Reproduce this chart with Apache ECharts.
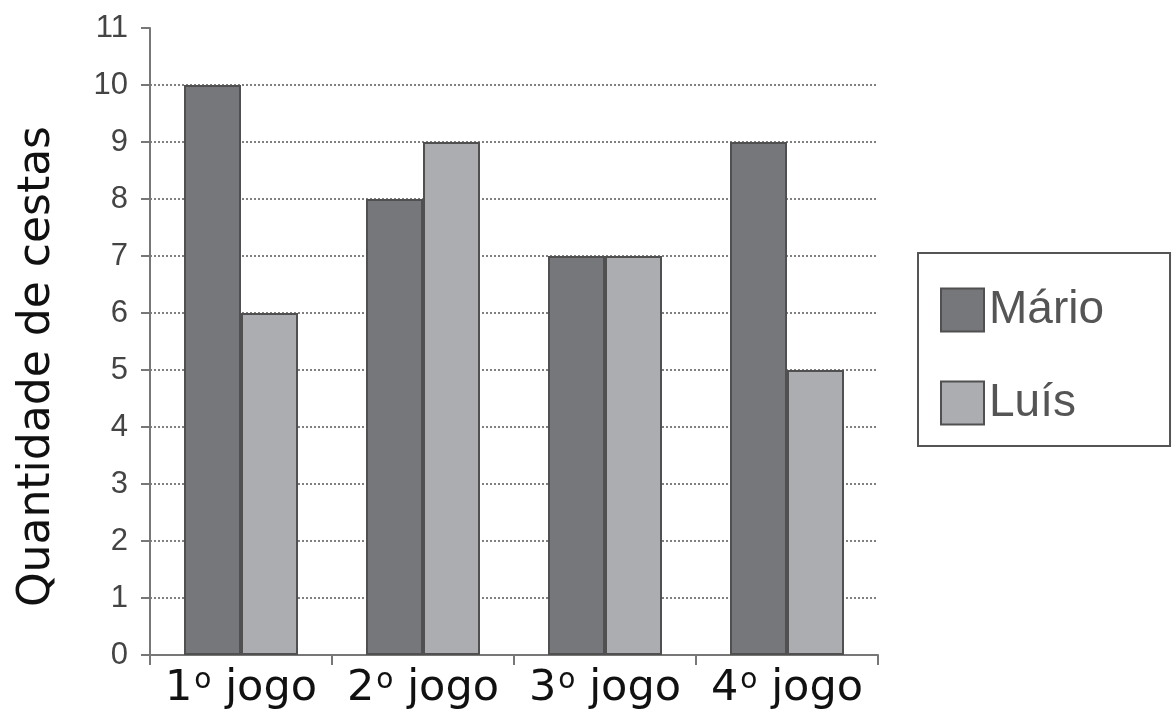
<!DOCTYPE html>
<html>
<head>
<meta charset="utf-8">
<script src="https://cdn.jsdelivr.net/npm/echarts@6/dist/echarts.min.js"></script>
<style>html,body{margin:0;padding:0;background:#fff}#c{width:1175px;height:715px}</style>
</head>
<body>
<div id="c"></div>
<script>
const categories = ['1', '2', '3', '4'];
const seriesNames = ['Mário', 'Luís'];
const mario = [10, 8, 7, 9];
const luis = [6, 9, 7, 5];
const yTicks = [0, 1, 2, 3, 4, 5, 6, 7, 8, 9, 10, 11];

const chart = echarts.init(document.getElementById('c'));
chart.setOption({
  animation: false,
  backgroundColor: '#fff',
  grid: { left: 150, right: 297, top: 28, bottom: 60 },
  legend: {
    orient: 'vertical',
    left: 918, top: 253,
    padding: [34, 66, 20, 22],
    itemGap: 47,
    itemWidth: 43, itemHeight: 43,
    borderColor: '#555', borderWidth: 2,
    icon: 'rect',
    textStyle: { fontFamily: 'Liberation Sans', fontSize: 46, color: '#555', padding: [0, 0, 0, 0] },
    data: seriesNames
  },
  xAxis: {
    type: 'category',
    data: categories,
    axisLine: { lineStyle: { color: '#777', width: 2 } },
    axisTick: { show: true, length: 10, lineStyle: { color: '#777', width: 2 } },
    axisLabel: {
      margin: 12,
      formatter: v => '{n|' + v + '}{o|o}{n| jogo}',
      rich: {
        n: { fontFamily: 'DejaVu Sans', fontSize: 43, color: '#111', lineHeight: 44 },
        o: { fontFamily: 'DejaVu Sans', fontSize: 28, color: '#111', verticalAlign: 'top', lineHeight: 44, padding: [0, 0, 16, 2] }
      }
    }
  },
  yAxis: {
    type: 'value',
    min: 0, max: 11, interval: 1,
    name: 'Quantidade de cestas',
    nameLocation: 'middle',
    nameGap: 90,
    nameTextStyle: { fontFamily: 'DejaVu Sans', fontSize: 44, color: '#111', padding: [0, 50, 0, 0] },
    axisLine: { show: true, lineStyle: { color: '#777', width: 2 } },
    axisTick: { show: true, length: 9, lineStyle: { color: '#777', width: 2 } },
    axisLabel: {
      margin: 22,
      fontFamily: 'Liberation Sans', fontSize: 31, color: '#444',
      formatter: v => yTicks.includes(v) ? String(v) : ''
    },
    splitLine: {
      show: true,
      showMinLine: false,
      showMaxLine: false,
      lineStyle: { type: [2, 2], color: '#808080', width: 2 }
    }
  },
  series: [
    {
      name: seriesNames[0], type: 'bar', data: mario,
      barWidth: 57, barGap: '0%',
      itemStyle: { color: '#76777b', borderColor: '#505050', borderWidth: 2 }
    },
    {
      name: seriesNames[1], type: 'bar', data: luis,
      barWidth: 57, barGap: '0%',
      itemStyle: { color: '#abadb0', borderColor: '#505050', borderWidth: 2 }
    }
  ]
});
</script>
</body>
</html>
